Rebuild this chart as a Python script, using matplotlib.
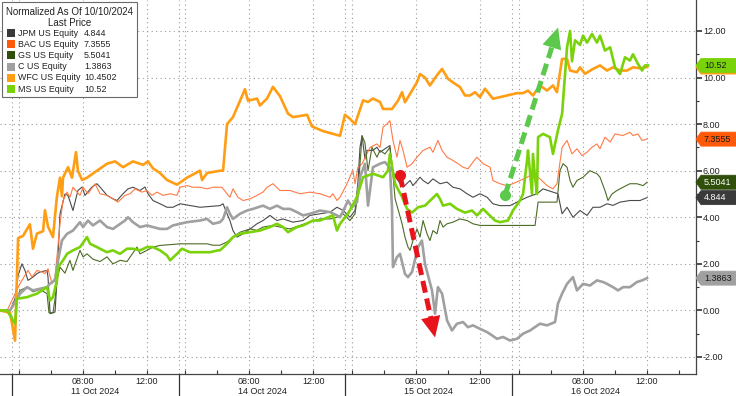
import numpy as np
import matplotlib.pyplot as plt
import matplotlib.transforms as mtransforms
from matplotlib.patches import Polygon, Rectangle

plt.rcParams['font.family'] = ['Liberation Sans', 'DejaVu Sans']

# x values are trading hours since the 11 Oct session start (03:35); each session runs to 14:00
session_start = 3 + 35 / 60
session_len = 14 - session_start
day_labels = ['11 Oct 2024', '14 Oct 2024', '15 Oct 2024', '16 Oct 2024']

names = ['JPM US Equity', 'BAC US Equity', 'GS US Equity', 'C US Equity', 'WFC US Equity', 'MS US Equity']
last_values = ['4.844', '7.3555', '5.5041', '1.3863', '10.4502', '10.52']
colors = ['#3a3a3a', '#ff5a0a', '#2f4f0a', '#a0a0a0', '#ff9d14', '#7ad20a']
line_colors = ['#4a4a4a', '#ff7a45', '#4d6b26', '#a0a0a0', '#ff9d14', '#7ad20a']
tag_text_colors = ['white', '#1a1a1a', 'white', '#1a1a1a', '#1a1a1a', '#1a1a1a']

# (hours, normalized change)
jpm = [(-0.75, 0), (-0.12, 0), (0.19, 0.5), (0.38, 1.5), (0.62, 2.0), (0.81, 1.72), (1.0, 1.29), (1.31, 1.43),
       (1.56, 1.58), (1.75, 1.65), (2.19, 1.72), (2.25, 1.43), (2.38, -0.14), (2.69, -0.07), (2.81, 1.29),
       (3.0, 4.15), (3.31, 5.0), (3.5, 4.94), (3.81, 4.29), (4.12, 5.15), (4.38, 5.3), (4.56, 4.94), (5.0, 5.3),
       (5.31, 5.44), (5.5, 5.3), (5.94, 4.94), (6.31, 4.79), (6.56, 4.72), (6.94, 5.01), (7.25, 5.22),
       (7.56, 5.29), (8.0, 5.15), (8.31, 5.3), (8.5, 5.01), (8.81, 4.72), (9.25, 4.58), (9.69, 4.43),
       (10.06, 4.43), (10.5, 4.58), (11.75, 4.43), (13.0, 4.5), (13.19, 4.58), (13.44, 4.15), (13.62, 3.86),
       (13.81, 3.43), (14.06, 3.15), (14.44, 3.29), (14.88, 3.5), (15.31, 3.72), (15.69, 3.86), (16.12, 4.08),
       (16.56, 3.86), (16.94, 3.93), (17.56, 3.79), (18.19, 3.86), (18.62, 4.08), (19.25, 4.15), (19.88, 4.22),
       (20.31, 4.43), (20.69, 4.3), (21.12, 4.0), (21.44, 4.29), (21.62, 5.5), (21.75, 7.0), (21.88, 7.5),
       (22.06, 6.5), (22.19, 6.87), (22.56, 6.87), (22.81, 7.01), (23.0, 6.79), (23.31, 6.94), (23.62, 7.08),
       (23.75, 6.0), (24.12, 5.58), (24.44, 5.29), (24.88, 5.58), (25.06, 5.36), (25.5, 5.72), (25.69, 5.58),
       (26.0, 5.44), (26.31, 5.65), (26.75, 5.44), (27.19, 5.51), (27.56, 5.29), (28.0, 5.22), (28.44, 5.01),
       (28.81, 4.86), (29.25, 5.01), (29.69, 4.86), (30.06, 4.58), (30.5, 4.5), (31.12, 4.5), (31.56, 4.65),
       (32.19, 4.86), (32.81, 5.01), (33.19, 5.22), (33.81, 5.08), (34.12, 5.01), (34.38, 4.15), (34.69, 4.43),
       (35.06, 4.0), (35.5, 4.29), (35.94, 4.08), (36.31, 4.43), (36.75, 4.43), (37.19, 4.58), (37.56, 4.51),
       (38.0, 4.65), (38.62, 4.72), (39.25, 4.72), (39.69, 4.844)]

bac = [(-0.75, 0), (-0.31, 0), (0.5, 1.15), (0.62, 1.29), (1.0, 1.72), (1.25, 1.43), (1.56, 1.72), (1.88, 1.65),
       (2.06, 1.58), (2.25, 1.79), (2.5, 1.15), (2.69, 1.43), (3.0, 3.72), (3.19, 4.72), (3.44, 5.08),
       (3.62, 4.86), (3.81, 5.29), (4.25, 4.94), (4.44, 5.29), (4.75, 5.01), (5.19, 5.44), (5.5, 5.01),
       (5.94, 4.94), (6.31, 4.79), (6.62, 4.65), (7.06, 4.94), (7.38, 5.01), (7.69, 5.22), (8.12, 5.08),
       (8.44, 5.15), (8.75, 4.94), (9.06, 5.08), (9.44, 4.94), (9.88, 5.01), (10.31, 4.94), (10.5, 5.29),
       (10.94, 5.36), (11.31, 5.29), (11.75, 5.29), (12.19, 5.22), (12.56, 5.29), (13.12, 5.29), (13.44, 5.01),
       (13.62, 4.86), (13.81, 5.22), (14.12, 4.86), (14.44, 4.72), (14.88, 4.79), (15.31, 4.94), (15.69, 5.08),
       (15.94, 5.29), (16.31, 5.44), (16.75, 5.15), (17.38, 5.15), (18.0, 5.01), (18.62, 5.08), (19.25, 5.01),
       (19.88, 4.86), (20.06, 5.01), (20.31, 4.72), (20.5, 4.86), (20.94, 5.44), (21.25, 5.94), (21.31, 6.01),
       (21.44, 5.44), (21.62, 6.15), (21.88, 6.3), (22.38, 7.0), (22.81, 7.15), (23.0, 7.0), (23.19, 7.87),
       (23.44, 8.01), (23.62, 8.15), (23.81, 7.3), (24.06, 6.58), (24.25, 7.3), (24.44, 6.87), (24.69, 6.15),
       (25.0, 6.3), (25.31, 6.58), (25.69, 6.87), (26.12, 7.01), (26.31, 6.79), (26.62, 7.3), (26.88, 6.87),
       (27.19, 6.58), (27.56, 6.44), (27.88, 6.3), (28.19, 6.15), (28.5, 6.08), (28.81, 6.37), (29.06, 6.58),
       (29.44, 6.3), (29.88, 6.15), (30.06, 5.58), (30.5, 5.44), (30.94, 5.36), (31.31, 5.44), (31.75, 5.58),
       (32.19, 5.72), (32.56, 5.87), (33.0, 5.65), (33.44, 5.36), (33.81, 5.22), (34.06, 5.44), (34.38, 7.0),
       (34.69, 7.3), (35.0, 6.72), (35.31, 6.94), (35.62, 6.65), (35.94, 6.79), (36.25, 7.01), (36.56, 7.15),
       (36.75, 6.94), (37.06, 7.44), (37.38, 7.23), (37.69, 7.58), (38.19, 7.51), (38.62, 7.65), (38.81, 7.51),
       (39.12, 7.58), (39.38, 7.3), (39.69, 7.3555)]

gs = [(-0.75, 0), (-0.12, 0), (0.19, 0.3), (0.5, 0.86), (0.94, 1.0), (1.31, 0.8), (1.75, 0.9), (2.19, 0.72),
      (2.31, -0.1), (2.56, -0.1), (2.69, 0.5), (2.81, 1.29), (3.0, 1.86), (3.31, 1.6), (3.62, 2.15), (3.81, 1.72),
      (4.25, 2.58), (4.44, 2.3), (4.69, 2.43), (5.06, 2.2), (5.5, 2.1), (5.94, 2.3), (6.31, 2.0), (6.75, 2.15),
      (7.19, 2.1), (7.81, 2.72), (8.0, 2.43), (8.44, 2.58), (8.81, 2.72), (9.25, 2.79), (10.5, 2.86),
      (11.75, 2.86), (12.19, 2.86), (12.56, 2.8), (13.0, 2.8), (13.44, 2.94), (13.81, 3.15), (14.25, 3.36),
      (14.88, 3.5), (15.31, 3.44), (15.69, 3.58), (16.31, 3.65), (16.75, 3.58), (17.38, 3.5), (18.0, 3.65),
      (18.62, 3.8), (19.25, 3.93), (19.88, 3.93), (20.31, 4.0), (20.69, 4.15), (21.12, 3.86), (21.44, 4.15),
      (21.62, 5.0), (21.75, 6.3), (21.88, 7.5), (22.06, 7.2), (22.25, 6.0), (22.5, 7.0), (22.81, 6.58),
      (23.0, 6.87), (23.31, 6.72), (23.62, 7.0), (23.75, 6.3), (23.94, 4.8), (24.12, 4.36), (24.38, 3.72),
      (24.56, 3.15), (24.75, 2.72), (24.88, 2.58), (25.06, 3.0), (25.31, 3.5), (25.5, 3.15), (25.69, 3.86),
      (25.94, 3.29), (26.12, 3.0), (26.31, 3.43), (26.56, 3.29), (26.75, 3.86), (26.94, 3.58), (27.19, 3.72),
      (27.56, 3.79), (28.0, 3.93), (28.44, 3.86), (28.81, 3.72), (29.25, 3.65), (30.5, 3.65), (32.69, 3.65),
      (32.88, 4.65), (34.06, 4.65), (34.25, 6.0), (34.44, 6.3), (34.69, 6.15), (34.88, 5.58), (35.06, 5.29),
      (35.31, 5.58), (35.69, 5.72), (36.12, 6.0), (36.56, 5.87), (36.75, 5.72), (37.06, 5.15), (37.25, 4.72),
      (37.5, 5.0), (37.81, 5.15), (38.19, 5.29), (38.62, 5.44), (39.06, 5.44), (39.44, 5.36), (39.69, 5.5041)]

c_eq = [(-0.75, 0), (-0.12, 0), (0.5, 0.72), (0.94, 1.0), (1.31, 0.86), (1.75, 0.93), (2.19, 1.0), (2.38, 1.15),
        (2.69, 1.29), (2.88, 2.15), (3.12, 3.0), (3.44, 3.29), (3.81, 3.43), (4.25, 3.79), (4.44, 3.58),
        (4.75, 3.86), (5.06, 3.65), (5.5, 3.86), (5.94, 3.58), (6.31, 3.5), (6.62, 3.65), (7.06, 3.86),
        (7.25, 4.0), (7.56, 3.79), (8.0, 3.58), (8.44, 3.65), (8.81, 3.58), (9.25, 3.5), (9.69, 3.5),
        (10.06, 3.65), (10.5, 3.72), (10.94, 3.79), (11.75, 3.86), (12.19, 3.93), (12.56, 3.72), (13.0, 3.79),
        (13.19, 3.93), (13.44, 4.43), (13.62, 4.15), (13.81, 3.93), (14.25, 4.15), (14.69, 4.29), (15.06, 4.36),
        (15.69, 4.5), (16.12, 4.36), (16.56, 4.5), (16.94, 4.36), (17.38, 4.36), (17.81, 4.22), (18.19, 4.08),
        (18.62, 4.15), (19.25, 4.29), (19.88, 4.22), (20.31, 4.08), (20.5, 4.0), (20.81, 4.43), (21.0, 4.72),
        (21.25, 4.43), (21.56, 4.65), (21.75, 5.72), (22.06, 6.3), (22.25, 4.5), (22.56, 6.15), (23.0, 6.3),
        (23.31, 6.37), (23.5, 6.22), (23.62, 6.15), (23.75, 4.43), (23.81, 1.86), (24.06, 2.29), (24.25, 2.43),
        (24.56, 1.57), (24.75, 1.43), (25.0, 1.65), (25.38, 2.72), (25.62, 3.0), (25.81, 2.0), (26.25, 0.86),
        (26.44, -0.14), (26.62, 1.0), (26.88, 0.72), (27.19, -0.43), (27.5, -0.86), (27.81, -0.57),
        (28.19, -0.5), (28.5, -0.72), (28.81, -0.64), (29.25, -0.79), (29.69, -0.93), (30.0, -1.07),
        (30.31, -1.22), (30.69, -1.14), (31.12, -1.29), (31.56, -1.22), (31.94, -1.0), (32.38, -0.86),
        (33.0, -0.57), (33.44, -0.64), (33.94, -0.5), (34.12, 0.29), (34.38, 0.72), (34.69, 1.14), (34.88, 1.29),
        (35.06, 1.43), (35.31, 0.86), (35.69, 1.14), (36.12, 1.07), (36.56, 1.29), (36.94, 1.22), (37.19, 1.14),
        (37.56, 1.0), (37.88, 0.86), (38.19, 1.0), (38.62, 1.0), (39.06, 1.22), (39.38, 1.29), (39.69, 1.3863)]

wfc = [(-0.75, 0), (-0.12, -0.1), (0.19, -1.3), (0.38, 3.1), (0.69, 3.2), (1.12, 3.7), (1.31, 2.65), (1.56, 3.3),
       (1.94, 3.4), (2.06, 4.3), (2.25, 3.6), (2.56, 3.15), (2.81, 4.9), (3.0, 5.7), (3.12, 4.9), (3.19, 5.7),
       (3.5, 6.15), (3.75, 5.7), (4.0, 6.8), (4.12, 6.0), (4.38, 5.6), (4.69, 5.7), (5.31, 6.0), (5.94, 6.3),
       (6.44, 6.4), (6.94, 6.15), (7.56, 6.4), (8.19, 6.25), (8.5, 6.4), (8.81, 6.1), (9.25, 5.9), (9.69, 5.6),
       (10.31, 5.4), (10.94, 5.7), (11.75, 6.0), (11.88, 5.6), (12.19, 5.9), (13.0, 6.0), (13.19, 6.0),
       (13.44, 8.0), (13.81, 8.3), (14.25, 9.0), (14.56, 9.5), (14.75, 9.0), (15.31, 9.1), (15.5, 8.8),
       (15.94, 9.1), (16.31, 9.6), (16.75, 9.2), (17.25, 8.45), (17.56, 8.3), (18.44, 8.4), (18.75, 7.9),
       (19.44, 7.7), (20.5, 7.5), (20.81, 8.4), (21.12, 8.23), (21.44, 8.0), (21.94, 9.02), (22.25, 8.95),
       (22.56, 9.1), (23.0, 8.95), (23.19, 8.65), (23.75, 8.65), (24.12, 9.0), (24.38, 9.37), (24.56, 8.94),
       (25.0, 9.44), (25.31, 9.8), (25.5, 10.15), (25.81, 10.0), (26.12, 9.66), (26.56, 10.1), (26.88, 10.37),
       (27.25, 9.94), (27.69, 9.73), (28.0, 9.59), (28.31, 9.23), (28.62, 9.23), (28.94, 9.37), (29.25, 9.16),
       (29.56, 9.52), (30.06, 9.09), (30.5, 9.16), (30.94, 9.23), (31.56, 9.33), (31.94, 9.33), (32.25, 9.44),
       (32.56, 9.23), (33.0, 9.66), (33.44, 9.44), (33.81, 9.66), (34.06, 9.37), (34.38, 10.8), (34.69, 10.8),
       (34.88, 10.3), (35.31, 10.23), (35.5, 10.44), (35.81, 10.16), (36.31, 10.37), (36.75, 10.52),
       (37.19, 10.3), (37.56, 10.44), (38.0, 10.3), (38.44, 10.3), (38.81, 10.44), (39.25, 10.4), (39.69, 10.4502)]

ms = [(-0.75, 0), (-0.31, 0), (0.19, -0.57), (0.31, 0.5), (0.94, 0.57), (1.56, 0.72), (2.19, 1.0), (2.38, 0.43),
      (2.56, 0.57), (2.81, 1.29), (2.88, 1.86), (3.19, 2.15), (3.44, 2.43), (3.81, 2.58), (4.25, 2.72),
      (4.69, 3.15), (4.88, 2.86), (5.31, 2.72), (5.5, 2.65), (5.94, 2.5), (6.31, 2.58), (6.75, 2.43),
      (7.19, 2.65), (7.56, 2.65), (8.0, 2.58), (8.44, 2.72), (8.81, 2.72), (9.25, 2.58), (9.69, 2.36),
      (9.88, 2.15), (10.31, 2.43), (10.62, 2.65), (11.12, 2.5), (11.75, 2.5), (12.38, 2.5), (12.88, 2.58),
      (13.0, 2.58), (13.44, 2.86), (13.81, 3.15), (14.25, 3.29), (14.88, 3.36), (15.5, 3.43), (16.12, 3.58),
      (16.56, 3.72), (16.94, 3.58), (17.25, 3.36), (17.81, 3.58), (18.19, 3.65), (18.81, 3.86), (19.25, 3.86),
      (19.75, 4.0), (20.06, 4.08), (20.31, 3.43), (20.5, 3.72), (21.0, 4.15), (21.56, 4.87), (21.94, 5.72),
      (22.56, 5.87), (23.19, 5.72), (23.5, 6.01), (23.62, 6.72), (23.94, 5.44), (24.38, 4.87), (24.69, 4.36),
      (25.0, 4.2), (25.38, 4.43), (25.81, 4.5), (26.56, 5.0), (26.75, 4.79), (26.94, 4.5), (27.38, 4.58),
      (27.81, 4.36), (28.31, 4.2), (28.75, 4.29), (29.06, 4.08), (29.44, 4.36), (29.75, 4.15), (30.19, 3.86),
      (30.5, 3.79), (31.0, 3.86), (31.31, 4.29), (31.75, 4.72), (31.94, 5.0), (32.19, 6.44), (32.25, 6.87),
      (32.5, 5.0), (32.56, 6.72), (32.69, 5.72), (32.81, 5.0), (32.88, 7.44), (33.19, 7.58), (33.62, 7.44),
      (33.81, 6.72), (34.12, 7.73), (34.38, 8.44), (34.69, 11.3), (34.88, 12.0), (35.0, 10.7), (35.19, 11.6),
      (35.5, 11.4), (35.69, 11.8), (35.94, 11.5), (36.25, 11.87), (36.56, 11.5), (36.75, 11.8), (37.06, 11.16),
      (37.38, 11.3), (37.69, 10.44), (38.0, 10.15), (38.31, 10.87), (38.62, 10.73), (38.81, 11.0),
      (39.12, 10.59), (39.38, 10.3), (39.56, 10.52), (39.75, 10.52)]

series = [jpm, bac, gs, c_eq, wfc, ms]
widths = [0.8, 0.8, 0.8, 1.9, 1.9, 1.9]

# annotation arrows (start, tip) in (hours, value)
red_arrow = ((24.25, 5.8), (26.44, -1.16))
green_arrow = ((30.81, 4.94), (34.13, 12.15))


def t_of(day, hour):
    return day * session_len + hour - session_start


fig = plt.figure(figsize=(7.36, 3.96), dpi=100)
ax = fig.add_axes([0, 22 / 396, 696 / 736, 374 / 396])

for data, col, lw in zip(series, line_colors, widths):
    t, v = zip(*data)
    ax.plot(t, v, color=col, lw=lw, solid_joinstyle='round', zorder=3)

ax.set_xlim(-0.75, 42.75)
ax.set_ylim(-2.73, 13.33)

# x axis
major_x = [t_of(d, h) for d in range(4) for h in (8, 12)]
minor_x = [t_of(d, h) for d in range(4) for h in (4, 6, 10)] + [t_of(3, 14)]
ax.set_xticks(major_x)
ax.set_xticklabels(['08:00', '12:00'] * 4)
ax.set_xticks(minor_x, minor=True)
ax.tick_params(axis='x', which='both', direction='in', length=3, width=0.8, color='#333333',
               labelsize=6.5, pad=2, labelcolor='#222222')

grid_kw = dict(color='#9a9a9a', lw=0.8, linestyle=(0, (1, 3)), zorder=1)
blend = mtransforms.blended_transform_factory(ax.transData, ax.transAxes)
for d in range(4):
    start = d * session_len
    for xg in (start, t_of(d, 4), t_of(d, 8), t_of(d, 12)):
        ax.axvline(xg, **grid_kw)
    ax.plot([start, start], [0, -0.06], transform=blend, color='#333333', lw=0.9, clip_on=False)
    ax.text(start + session_len / 2, -0.046, day_labels[d], transform=blend, ha='center', va='center',
            fontsize=6.5, color='#222222')

# y axis on the right
ax.yaxis.tick_right()
ax.set_yticks(np.arange(-2, 13, 2))
ax.set_yticks(np.arange(-1, 13, 2), minor=True)
ax.set_yticklabels(['%.2f' % v for v in np.arange(-2, 13, 2)])
ax.tick_params(axis='y', which='major', direction='out', length=4, width=1.2, color='#333333',
               labelsize=6.5, pad=1, labelcolor='#222222')
ax.tick_params(axis='y', which='minor', direction='out', length=2, width=0.8, color='#333333')
for yg in np.arange(-2, 13, 2):
    ax.axhline(yg, **grid_kw)

for side in ('left', 'top'):
    ax.spines[side].set_visible(False)
for side in ('right', 'bottom'):
    ax.spines[side].set_color('#444444')
    ax.spines[side].set_linewidth(0.9)


# dashed arrows
def dashed_arrow(start, tip, color):
    (x0, y0), (x1, y1) = start, tip
    f = 0.88
    xh, yh = x0 + f * (x1 - x0), y0 + f * (y1 - y0)
    ax.plot([x0, xh], [y0, yh], color=color, lw=3.6, dashes=(2.4, 1.2), solid_capstyle='butt',
            dash_capstyle='butt', zorder=6)
    ax.plot([x0], [y0], 'o', color=color, ms=7, zorder=6)
    ax.annotate('', xy=(x1, y1), xytext=(xh, yh), zorder=6,
                arrowprops=dict(arrowstyle='-|>,head_length=0.75,head_width=0.35', mutation_scale=20,
                                color=color, lw=0, shrinkA=0, shrinkB=0))


dashed_arrow(*red_arrow, '#e8141c')
dashed_arrow(*green_arrow, '#5cc84c')

# last value tags on the right axis (WFC tag sits under the MS tag, only its edge shows)
ytrans = ax.get_yaxis_transform()
hh = 0.3
tip_w = 5 / 696
for i in [4, 0, 2, 1, 3, 5]:
    v = float(last_values[i])
    poly = Polygon([(1.0, v), (1.0 + tip_w, v + hh), (1.06, v + hh), (1.06, v - hh), (1.0 + tip_w, v - hh)],
                   closed=True, transform=ytrans, facecolor=colors[i], edgecolor=colors[i], lw=0.6,
                   clip_on=False, zorder=7)
    ax.add_patch(poly)
    if i == 4:
        continue
    ax.text(1.0 + 8 / 696, v, last_values[i], transform=ytrans, ha='left', va='center', fontsize=6.5,
            color=tag_text_colors[i], clip_on=False, zorder=8)

# legend box
W, H = 736, 396
box = Rectangle((2 / W, 1 - 97 / H), 135 / W, 95 / H, transform=fig.transFigure, facecolor='white',
                edgecolor='#6a6a6a', lw=0.8, zorder=10)
fig.add_artist(box)
fig.text(69.5 / W, 1 - 12 / H, 'Normalized As Of 10/10/2024', ha='center', va='center', fontsize=7,
         color='#222222', zorder=11)
fig.text(69.5 / W, 1 - 23 / H, 'Last Price', ha='center', va='center', fontsize=7, color='#222222', zorder=11)
for i, (name, val) in enumerate(zip(names, last_values)):
    yc = 33 + 11.2 * i
    sw = Rectangle((7 / W, 1 - (yc + 4) / H), 8 / W, 8 / H, transform=fig.transFigure,
                   facecolor=colors[i], edgecolor='none', zorder=11)
    fig.add_artist(sw)
    fig.text(18 / W, 1 - yc / H, name, ha='left', va='center', fontsize=6.4, color='#222222', zorder=11)
    fig.text(84 / W, 1 - yc / H, val, ha='left', va='center', fontsize=6.4, color='#222222', zorder=11)

fig.savefig('out.png', dpi=100)
